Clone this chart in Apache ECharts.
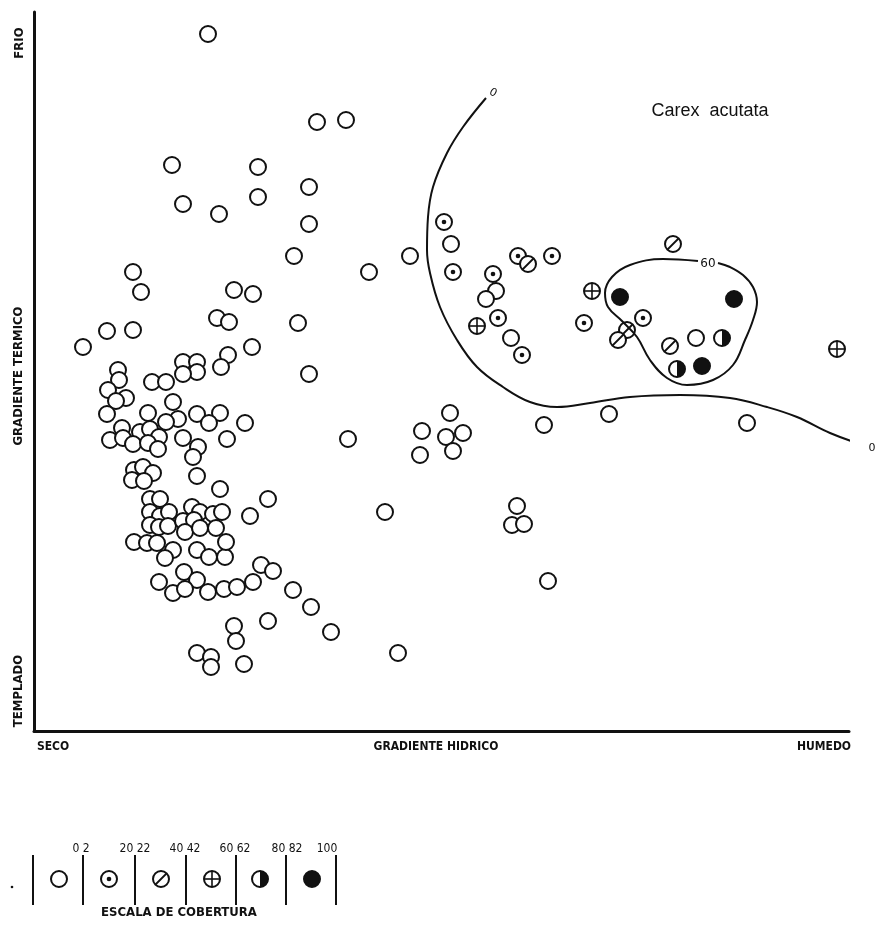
<!DOCTYPE html>
<html>
<head>
<meta charset="utf-8">
<script src="https://cdn.jsdelivr.net/npm/echarts@6/dist/echarts.min.js"></script>
<style>html,body{margin:0;padding:0;background:#fff}#chart{width:876px;height:927px}</style>
</head>
<body>
<div id="chart"></div>
<script>
// cover classes: 0 open, 1 dot, 2 slash, 3 plus, 4 half, 5 full
var coverLabels = ['0 2', '20 22', '40 42', '60 62', '80 82', '100'];

var openPts = [
    [174,697],[138,566],[224,564],[149,527],[224,534],[185,517],[283,609],[312,611],[275,544],[275,507],
    [417,487],[260,475],[376,475],[99,459],[107,439],[200,441],[219,437],[73,400],[99,401],[183,413],
    [195,409],[264,408],[49,384],[218,384],[194,376],[187,364],[84,361],[149,369],[163,369],[163,359],
    [149,357],[85,351],[118,349],[132,349],[74,341],[92,333],[82,330],[139,329],[73,317],[114,318],
    [163,317],[186,318],[175,308],[144,312],[132,309],[211,308],[88,303],[106,299],[116,302],[125,294],
    [76,291],[89,293],[99,287],[114,288],[124,282],[149,293],[164,284],[159,274],[193,292],[100,261],
    [109,264],[119,258],[98,251],[110,250],[163,255],[186,242],[116,232],[126,232],[234,232],[116,219],
    [126,215],[135,219],[158,224],[166,219],[179,217],[188,219],[216,215],[116,206],[125,204],[134,205],
    [149,210],[160,211],[151,199],[166,203],[182,203],[100,189],[113,188],[123,188],[139,181],[131,173],
    [163,181],[175,174],[191,174],[192,189],[150,159],[163,151],[125,149],[139,138],[151,142],[174,139],
    [190,142],[203,144],[219,149],[227,166],[239,160],[259,141],[200,105],[202,90],[234,110],[163,78],
    [177,74],[177,64],[210,67],[351,219],[483,225],[478,206],[490,207],[277,124],[297,99],[364,78],
    [514,150],[335,459],[462,440],[452,432],[477,393],[275,357],[416,318],[388,300],[412,294],[429,298],
    [386,276],[419,280],[314,292],[510,306],[662,393],[575,317],[713,308]
];
var dotPts = [[410,509],[419,459],[484,475],[518,475],[459,457],[464,413],[488,376],[550,408],[609,413]];
var slashPts = [[494,467],[639,487],[593,401],[584,391],[636,385]];
var plusPts = [[558,440],[443,405],[803,382]];
var halfPts = [[688,393],[643,362]];
var fullPts = [[586,434],[700,432],[668,365]];

var contour0 = [
    [452,633],[429,604],[413,578],[399,544],[394,514],[393,481],[396,458],[406,424],[423,391],[443,364],
    [469,344],[496,329],[523,324],[556,328],[596,334],[646,336],[696,333],[733,324],[763,314],[796,298],[829,286]
];
var contour60 = [
    [684,468],[696,464],[709,456],[719,444],[723,429],[719,411],[711,391],[699,366],[679,351],[653,346],
    [633,353],[616,371],[603,394],[588,410],[574,424],[571,438],[578,454],[596,466],[629,472],[664,470]
];

var groups = [openPts, dotPts, slashPts, plusPts, halfPts, fullPts];
var pts = [];
groups.forEach(function (g, cls) {
    g.forEach(function (p) { pts.push([p[0], p[1], cls]); });
});

var ink = '#111';
var R = 8;
function coverSymbol(cls, cx, cy) {
    var kids = [{
        type: 'circle',
        shape: {cx: cx, cy: cy, r: R},
        style: {fill: cls == 5 ? ink : '#fff', stroke: ink, lineWidth: 2}
    }];
    if (cls == 1) {
        kids.push({type: 'circle', shape: {cx: cx, cy: cy, r: 2.3}, style: {fill: ink}});
    }
    if (cls == 2) {
        kids.push({type: 'line', shape: {x1: cx - 5.5, y1: cy + 5.5, x2: cx + 5.5, y2: cy - 5.5}, style: {stroke: ink, lineWidth: 1.8}});
    }
    if (cls == 3) {
        kids.push({type: 'line', shape: {x1: cx - R, y1: cy, x2: cx + R, y2: cy}, style: {stroke: ink, lineWidth: 1.6}});
        kids.push({type: 'line', shape: {x1: cx, y1: cy - R, x2: cx, y2: cy + R}, style: {stroke: ink, lineWidth: 1.6}});
    }
    if (cls == 4) {
        kids.push({type: 'sector', shape: {cx: cx, cy: cy, r0: 0, r: R, startAngle: -Math.PI / 2, endAngle: Math.PI / 2, clockwise: true}, style: {fill: ink}});
    }
    return kids;
}

function txt(s, x, y, size, weight, family, rot) {
    return {
        type: 'text', x: x, y: y, rotation: rot || 0,
        style: {
            text: s, fill: ink, fontSize: size, fontWeight: weight || 'normal',
            fontFamily: family || '"DejaVu Sans Condensed", "DejaVu Sans"',
            textAlign: 'center', textVerticalAlign: 'middle', align: 'center', verticalAlign: 'middle'
        }
    };
}

var axisFont = '"DejaVu Sans Condensed", "DejaVu Sans"';
var graphics = [
    txt('FRIO', 20, 43, 13, 'bold', axisFont, Math.PI / 2),
    txt('GRADIENTE TERMICO', 19, 376, 13, 'bold', axisFont, Math.PI / 2),
    txt('TEMPLADO', 19, 691, 13, 'bold', axisFont, Math.PI / 2),
    txt('SECO', 53, 747, 12, 'bold', axisFont),
    txt('GRADIENTE HIDRICO', 436, 747, 12, 'bold', axisFont),
    txt('HUMEDO', 824, 747, 12, 'bold', axisFont),
    txt('Carex  acutata', 710, 111, 18, 'normal', '"Liberation Sans", Arial'),
    txt('0', 493, 93, 11, 'normal', '"DejaVu Sans"', -0.5),
    txt('60', 708, 264, 12, 'normal', '"DejaVu Sans"'),
    txt('0', 872, 448, 11, 'normal', '"DejaVu Sans"'),
    txt('ESCALA DE COBERTURA', 179, 913, 13, 'bold', axisFont),
    {type: 'circle', shape: {cx: 12, cy: 887, r: 1.3}, style: {fill: ink}}
];

// legend of cover scale
var barX = [33, 83, 135, 186, 236, 286, 336];
var symX = [59, 109, 161, 212, 260, 312];
var labX = [81, 135, 185, 235, 287, 327];
barX.forEach(function (x) {
    graphics.push({type: 'line', shape: {x1: x, y1: 855, x2: x, y2: 905}, style: {stroke: ink, lineWidth: 2}});
});
symX.forEach(function (x, i) {
    graphics.push({type: 'group', children: coverSymbol(i, x, 879)});
    graphics.push(txt(coverLabels[i], labX[i], 849, 12, 'normal', axisFont));
});

var chart = echarts.init(document.getElementById('chart'));
var option = {
    animation: false,
    backgroundColor: '#fff',
    grid: {left: 34, top: 12, width: 815, height: 719},
    xAxis: {
        type: 'value', min: 0, max: 815,
        axisLine: {show: true, lineStyle: {color: ink, width: 3}},
        axisTick: {show: false}, axisLabel: {show: false}, splitLine: {show: false}
    },
    yAxis: {
        type: 'value', min: 0, max: 719,
        axisLine: {show: true, lineStyle: {color: ink, width: 3}},
        axisTick: {show: false}, axisLabel: {show: false}, splitLine: {show: false}
    },
    series: [
        {
            type: 'line', data: contour0, smooth: 0.4, symbol: 'none', clip: false,
            lineStyle: {color: ink, width: 2}
        },
        {
            type: 'line', data: contour60, smooth: 0.4, symbol: 'none', clip: false,
            lineStyle: {color: ink, width: 2}
        },
        {
            type: 'custom',
            coordinateSystem: 'cartesian2d',
            encode: {x: 0, y: 1},
            data: pts,
            renderItem: function (params, api) {
                var c = api.coord([api.value(0), api.value(1)]);
                return {type: 'group', children: coverSymbol(api.value(2), c[0], c[1])};
            }
        }
    ],
    graphic: graphics
};
chart.setOption(option);
</script>
</body>
</html>
